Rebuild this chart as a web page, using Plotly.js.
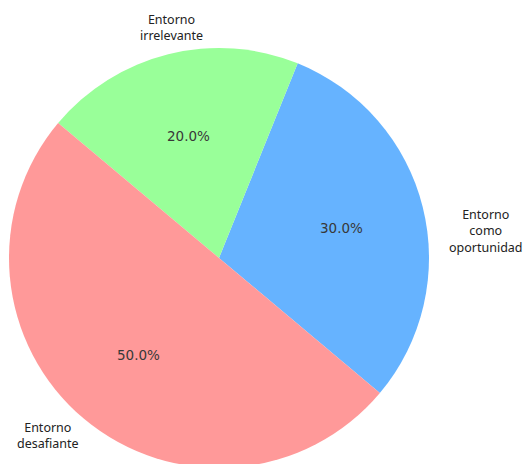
<!DOCTYPE html>
<html>
<head>
<meta charset="utf-8">
<script src="https://cdn.plot.ly/plotly-3.0.1.min.js"></script>
<style>
html,body{margin:0;padding:0;overflow:hidden;background:#fff;}
#chart{width:524px;height:480px;}
</style>
</head>
<body>
<div id="chart"></div>
<script>
// Data
var categories = ["Entorno como oportunidad", "Entorno irrelevante", "Entorno desafiante"];
var labelTexts = ["Entorno<br>como<br>oportunidad", "Entorno<br>irrelevante", "Entorno<br>desafiante"];
var values = [30, 20, 50];
var colors = ["#66b3ff", "#99ff99", "#ff9999"];

var W = 524, H = 480;
var cx = 219, cy = 258, R = 210;
var startAngle = -40; // degrees, math convention, counterclockwise

var total = values.reduce(function(a, b){ return a + b; }, 0);
var firstSpan = values[0] / total * 360;

var trace = {
  type: "pie",
  labels: categories,
  values: values,
  sort: false,
  direction: "counterclockwise",
  // Plotly (counterclockwise): first slice occupies [rotation, rotation+span] clockwise from 12 o'clock
  rotation: 90 - startAngle - firstSpan,
  marker: {colors: colors, line: {width: 0}},
  textinfo: "none",
  hoverinfo: "label+percent",
  showlegend: false,
  domain: {x: [(cx - R) / W, (cx + R) / W], y: [(H - (cy + R)) / H, (H - (cy - R)) / H]}
};

var annotations = [];
var acc = startAngle;
var labelPos = [[486, 231], [171, 27], [48, 435]];
for (var i = 0; i < values.length; i++) {
  var span = values[i] / total * 360;
  var mid = (acc + span / 2) * Math.PI / 180;
  acc += span;
  var px = cx + 0.6 * R * Math.cos(mid);
  var py = cy - 0.6 * R * Math.sin(mid);
  annotations.push({
    xref: "paper", yref: "paper", x: px / W, y: 1 - py / H,
    xanchor: "center", yanchor: "middle", showarrow: false,
    text: (values[i] / total * 100).toFixed(1) + "%",
    font: {family: "DejaVu Sans, sans-serif", size: 13.5, color: "#383838"}
  });
  annotations.push({
    xref: "paper", yref: "paper", x: labelPos[i][0] / W, y: 1 - labelPos[i][1] / H,
    xanchor: "center", yanchor: "middle", showarrow: false, align: "center",
    text: labelTexts[i],
    font: {family: "Noto Sans, DejaVu Sans, sans-serif", size: 12.5, color: "#222222"}
  });
}

var layout = {
  width: W, height: H,
  margin: {l: 0, r: 0, t: 0, b: 0},
  paper_bgcolor: "#ffffff",
  annotations: annotations,
  showlegend: false
};

Plotly.newPlot("chart", [trace], layout, {displayModeBar: false, staticPlot: true});
</script>
</body>
</html>
